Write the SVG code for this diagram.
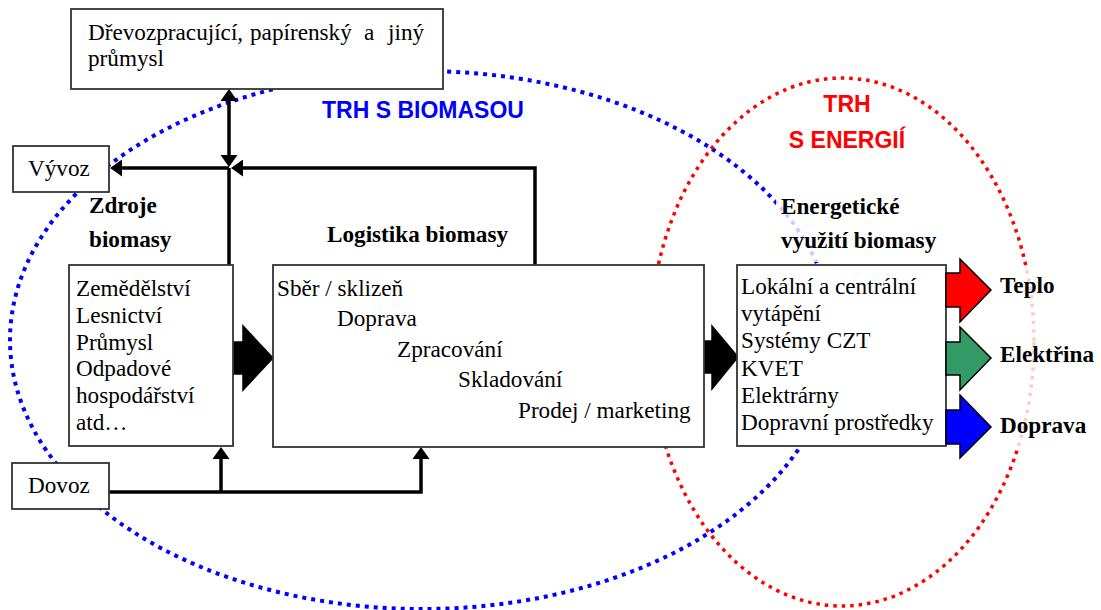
<svg xmlns="http://www.w3.org/2000/svg" width="1101" height="610" viewBox="0 0 1101 610">
<style>
.box{fill:#fff;stroke:#333;stroke-width:1.8}
.t{font-family:"Liberation Serif","Times New Roman",serif;font-size:23.2px;fill:#000}
.b{font-family:"Liberation Serif","Times New Roman",serif;font-size:23.2px;font-weight:bold;fill:#000}
.h{font-family:"Liberation Sans",Arial,sans-serif;font-size:23px;font-weight:bold}
.con{fill:none;stroke:#000;stroke-width:3.5}
.big{stroke:#000;stroke-width:1.5;stroke-linejoin:miter}
</style>
<defs>
<marker id="ah" viewBox="0 0 12 17" markerWidth="12" markerHeight="17" refX="2" refY="8.5" orient="auto-start-reverse" markerUnits="userSpaceOnUse">
<path d="M0,0 L12,8.5 L0,17 z" fill="#000"/>
</marker>
</defs>
<rect width="1101" height="610" fill="#fff"/>
<g id="markets">
<ellipse id="trh-biomasa" cx="422" cy="340" rx="412" ry="269" fill="none" stroke="#0000ff" stroke-width="4" stroke-dasharray="4 5"/>
<ellipse id="trh-energie" cx="842" cy="342" rx="192" ry="264" fill="none" stroke="#ff0000" stroke-width="3.5" stroke-dasharray="3.5 5"/>
<text class="h" x="322" y="118" fill="#0000ff">TRH S BIOMASOU</text>
<text class="h" x="847" y="112" fill="#ff0000" text-anchor="middle">TRH</text>
<text class="h" x="847" y="148" fill="#ff0000" text-anchor="middle">S ENERGIÍ</text>
</g>
<g id="connectors">
<path class="con" d="M229,265 V168"/>
<path class="con" d="M229,157 V99" marker-start="url(#ah)" marker-end="url(#ah)"/>
<path class="con" d="M535,265 V168 H241" marker-end="url(#ah)"/>
<path class="con" d="M229,168 H120" marker-end="url(#ah)"/>
<path class="con" d="M109,492 H421 V457" marker-end="url(#ah)"/>
<path class="con" d="M221,492 V457" marker-end="url(#ah)"/>
<polygon class="big" fill="#000" points="233,342 243,342 243,326 273,358 243,390 243,374 233,374"/>
<polygon class="big" fill="#000" points="704,341 712,341 712,326 738,357 712,389 712,373 704,373"/>
</g>
<g id="prumysl">
<rect class="box" x="71" y="9" width="372" height="80"/>
<text class="t" y="40"><tspan x="88">Dřevozpracující,</tspan><tspan x="250">papírenský</tspan><tspan x="364">a</tspan><tspan x="388">jiný</tspan></text>
<text class="t" x="88" y="66">průmysl</text>
</g>
<g id="vyvoz">
<rect class="box" x="13" y="146" width="96" height="46"/>
<text class="t" x="28" y="176">Vývoz</text>
</g>
<g id="dovoz">
<rect class="box" x="12" y="463" width="97" height="46"/>
<text class="t" x="28" y="493">Dovoz</text>
</g>
<g id="zdroje">
<text class="b" x="89" y="213">Zdroje</text>
<text class="b" x="89" y="247">biomasy</text>
<rect class="box" x="69" y="265" width="164" height="181"/>
<text class="t" x="76" y="296">Zemědělství</text>
<text class="t" x="76" y="322.8">Lesnictví</text>
<text class="t" x="76" y="349.6">Průmysl</text>
<text class="t" x="76" y="376.4">Odpadové</text>
<text class="t" x="76" y="403.2">hospodářství</text>
<text class="t" x="76" y="430">atd…</text>
</g>
<g id="logistika">
<text class="b" x="327" y="242">Logistika biomasy</text>
<rect class="box" x="273" y="265" width="431" height="182"/>
<text class="t" x="277" y="296">Sběr / sklizeň</text>
<text class="t" x="337" y="326">Doprava</text>
<text class="t" x="397" y="357">Zpracování</text>
<text class="t" x="458" y="387">Skladování</text>
<text class="t" x="518" y="418">Prodej / marketing</text>
</g>
<g id="vyuziti">
<rect x="776" y="190" width="165" height="72" fill="#fff" opacity="0.8"/>
<text class="b" x="781" y="214">Energetické</text>
<text class="b" x="781" y="248">využití biomasy</text>
<rect class="box" x="737" y="265" width="209" height="181"/>
<text class="t" x="741" y="294">Lokální a centrální</text>
<text class="t" x="741" y="321.2">vytápění</text>
<text class="t" x="741" y="348.4">Systémy CZT</text>
<text class="t" x="741" y="375.6">KVET</text>
<text class="t" x="741" y="402.8">Elektrárny</text>
<text class="t" x="741" y="430">Dopravní prostředky</text>
</g>
<g id="vystupy">
<rect x="997" y="268" width="102" height="180" fill="#fff" opacity="0.8"/>
<polygon class="big" fill="#ff0000" points="946,273 960,273 960,259 991,290 960,322 960,307 946,307"/>
<polygon class="big" fill="#339966" points="946,342 960,342 960,327 991,358 960,390 960,375 946,375"/>
<polygon class="big" fill="#0000ff" points="946,410 960,410 960,395 991,427 960,458 960,444 946,444"/>
<text class="b" x="1000" y="293">Teplo</text>
<text class="b" x="1000" y="362">Elektřina</text>
<text class="b" x="1000" y="433">Doprava</text>
</g>
</svg>
